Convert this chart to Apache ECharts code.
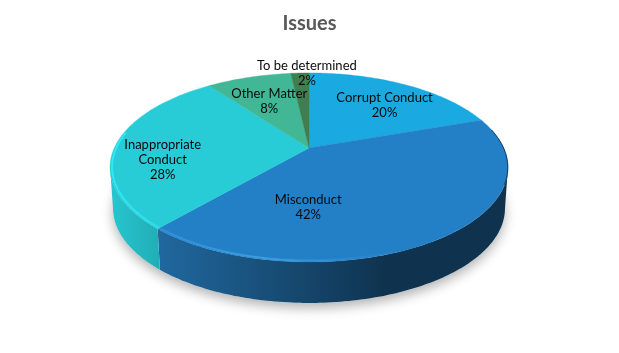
<!DOCTYPE html>
<html>
<head>
<meta charset="utf-8">
<title>Issues</title>
<script src="https://cdn.jsdelivr.net/npm/echarts@6/dist/echarts.min.js"></script>
<style>
    html, body { margin: 0; padding: 0; background: #fff; }
    #chart { width: 619px; height: 353px; }
</style>
</head>
<body>
<div id="chart"></div>
<script>
    // values (printed labels are these rounded)
    const categories = ['Corrupt Conduct', 'Misconduct', 'Inappropriate\nConduct', 'Other Matter', 'To be determined'];
    const shares = [19.7, 41.7, 28.4, 8.4, 1.8];

    const topColors = ['#1aa9e0', '#237fc6', '#27ccd6', '#41b795', '#3e7f50'];
    // nudges from the slice's mid point, [radius, dx, dy]
    const labelPlace = [[0.72, 3, 5], [0.42, -50, 25], [0.72, -7, 14], [0.62, 0, 0], [1.0, 7, 0]];

    // the disc is seen in perspective, so the apex sits above the middle of the ellipse
    const cx = 309, apexY = 148, persp = 0.206, radX = 194.7, radY = 90.5, depth = 41;
    const sideStart = 101.9, sideEnd = 258.1;
    const total = shares.reduce((a, b) => a + b, 0);

    function project(deg, r, sunk) {
        const t = deg * Math.PI / 180;
        const u = r * Math.sin(t), v = r * Math.cos(t), w = 1 + persp * v;
        const shrink = sunk ? 0.985 : 1;
        return [cx + shrink * radX * u / w, apexY - radY * v / w + (sunk ? depth : 0)];
    }

    function arc(from, to, r, sunk) {
        const pts = [];
        const steps = Math.max(2, Math.ceil(Math.abs(to - from)));
        for (let i = 0; i <= steps; i++) {
            pts.push(project(from + (to - from) * i / steps, r, sunk));
        }
        return pts;
    }

    function sliceAngles(i) {
        let before = 0;
        for (let k = 0; k < i; k++) before += shares[k];
        return [before / total * 360, (before + shares[i]) / total * 360];
    }

    function hGrad(x0, x1, stops) {
        return new echarts.graphic.LinearGradient(x0, 0, x1, 0, stops, true);
    }

    const sideFill = [
        null,
        hGrad(158, 385, [{ offset: 0, color: '#20689f' }, { offset: 1, color: '#0f334f' }]),
        hGrad(110, 160, [{ offset: 0, color: '#27c6d0' }, { offset: 1, color: '#22adb5' }]),
        null, null
    ];
    const rimStroke = [
        null,
        hGrad(158, 400, [
            { offset: 0, color: '#2f8fd6' }, { offset: 0.45, color: '#3b9fe2' },
            { offset: 0.75, color: '#2f8ad0' }, { offset: 1, color: '#237fc6' }
        ]),
        hGrad(110, 160, [{ offset: 0, color: '#30e9f5' }, { offset: 1, color: '#2fdcea' }]),
        null, null
    ];

    function renderShadow() {
        return {
            type: 'polygon',
            shape: { points: arc(0, 360, 1, true) },
            style: { fill: '#fff', shadowBlur: 12, shadowColor: 'rgba(0,0,0,0.3)', shadowOffsetY: 5 }
        };
    }

    function renderSide(params) {
        const i = params.dataIndex;
        const a = sliceAngles(i);
        const from = Math.max(a[0], sideStart), to = Math.min(a[1], sideEnd);
        if (to <= from) return { type: 'group', children: [] };
        return {
            type: 'polygon',
            shape: { points: arc(from, to, 1, false).concat(arc(to, from, 1, true)) },
            style: { fill: sideFill[i] }
        };
    }

    function renderTop(params) {
        const i = params.dataIndex;
        const a = sliceAngles(i);
        const children = [{
            type: 'polygon',
            shape: { points: [project(0, 0)].concat(arc(a[0], a[1], 1)) },
            style: { fill: topColors[i], stroke: topColors[i], lineWidth: 0.4 }
        }];
        // soft bevel along the front edge, the right end of it stays dark
        const from = Math.max(a[0], 140), to = Math.min(a[1], sideEnd + 22);
        if (to > from && rimStroke[i]) {
            children.push({
                type: 'polyline',
                shape: { points: arc(from, to, 0.99) },
                style: { fill: null, stroke: rimStroke[i], lineWidth: 2 }
            });
        }
        if (i === 1) {
            children.push({
                type: 'polyline',
                shape: { points: arc(78, 112, 0.999) },
                style: { fill: null, stroke: '#123a5a', lineWidth: 1 }
            });
        }
        return { type: 'group', children: children };
    }

    function renderLabel(params, api) {
        const i = params.dataIndex;
        const a = sliceAngles(i);
        const place = labelPlace[i];
        const p = project((a[0] + a[1]) / 2, place[0]);
        return {
            type: 'text',
            style: {
                x: p[0] + place[1],
                y: p[1] + place[2],
                text: categories[i] + '\n' + Math.round(api.value(0)) + '%',
                fill: '#0a0a0a',
                font: '13px Lato',
                lineHeight: 15,
                align: 'center',
                verticalAlign: 'middle'
            }
        };
    }

    const chart = echarts.init(document.getElementById('chart'));
    chart.setOption({
        animation: false,
        title: {
            text: 'Issues',
            left: 'center',
            top: 9,
            textStyle: { color: '#595959', fontFamily: 'Lato', fontSize: 20, fontWeight: 'bold' }
        },
        series: [
            { type: 'custom', coordinateSystem: 'none', silent: true, renderItem: renderShadow, data: [0] },
            { type: 'custom', coordinateSystem: 'none', silent: true, renderItem: renderSide, data: shares },
            { type: 'custom', coordinateSystem: 'none', silent: true, renderItem: renderTop, data: shares },
            { type: 'custom', coordinateSystem: 'none', silent: true, renderItem: renderLabel, data: shares }
        ]
    });
</script>
</body>
</html>
